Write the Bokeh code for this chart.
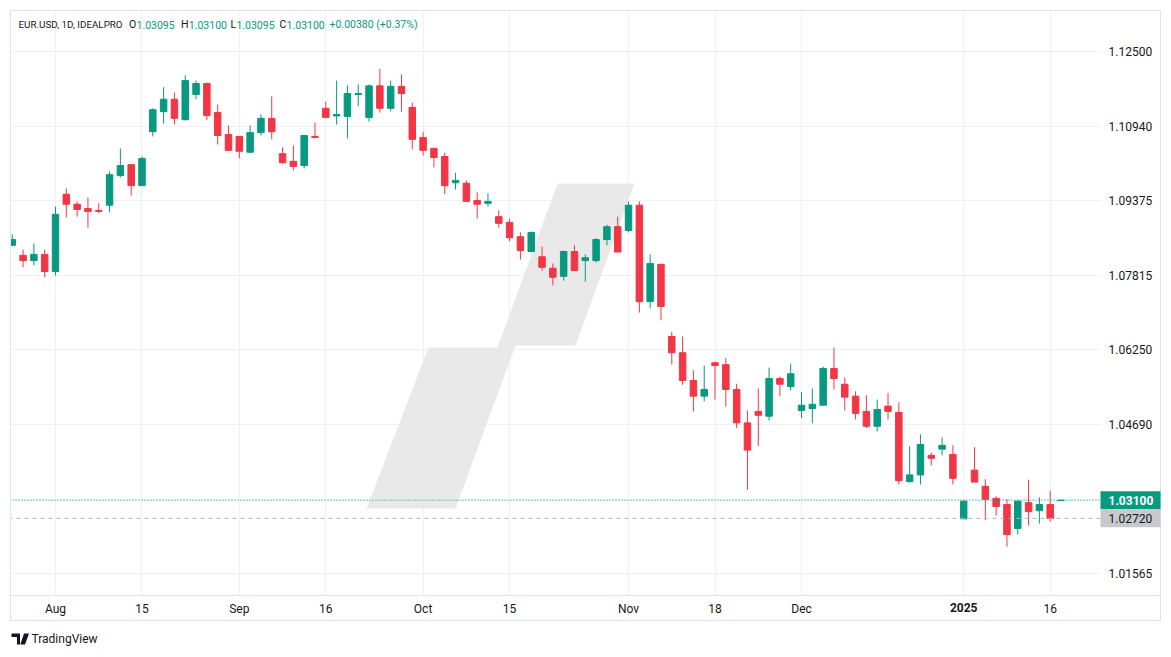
import numpy as np
from bokeh.plotting import figure
from bokeh.models import (Range1d, FixedTicker, Span, Label, PolyAnnotation, BoxAnnotation,
                          ColumnDataSource)
from bokeh.embed import file_html
from bokeh.resources import INLINE

# ---- data (EUR.USD daily) ----
opens = [1.0844, 1.0823, 1.0812, 1.0825, 1.0789, 1.0951, 1.0930, 1.0921, 1.0917, 1.0928,
         1.0990, 1.1013, 1.0969, 1.1082, 1.1124, 1.1150, 1.1107, 1.1160, 1.1183, 1.1122,
         1.1076, 1.1072, 1.1039, 1.1080, 1.1110, 1.1036, 1.1020, 1.1011, 1.1072, 1.1131,
         1.1115, 1.1114, 1.1160, 1.1112, 1.1178, 1.1131, 1.1177, 1.1133, 1.1070, 1.1047,
         1.1030, 1.0975, 1.0974, 1.0938, 1.0932, 1.0904, 1.0892, 1.0862, 1.0831, 1.0820,
         1.0796, 1.0779, 1.0831, 1.0812, 1.0812, 1.0856, 1.0883, 1.0875, 1.0928, 1.0726,
         1.0804, 1.0653, 1.0619, 1.0561, 1.0528, 1.0598, 1.0594, 1.0542, 1.0472, 1.0496,
         1.0486, 1.0565, 1.0548, 1.0498, 1.0502, 1.0509, 1.0586, 1.0553, 1.0528, 1.0496,
         1.0465, 1.0507, 1.0494, 1.0349, 1.0363, 1.0404, 1.0417, 1.0406, 1.0271, 1.0373,
         1.0339, 1.0314, 1.0301, 1.0251, 1.0305, 1.0288, 1.0301, 1.03095]
highs = [1.0867, 1.0835, 1.0848, 1.0835, 1.0925, 1.0963, 1.0936, 1.0944, 1.0932, 1.0999,
         1.1047, 1.1015, 1.1030, 1.1131, 1.1175, 1.1164, 1.1200, 1.1189, 1.1185, 1.1139,
         1.1095, 1.1072, 1.1095, 1.1118, 1.1156, 1.1049, 1.1053, 1.1074, 1.1101, 1.1145,
         1.1189, 1.1179, 1.1181, 1.1181, 1.1214, 1.1189, 1.1202, 1.1143, 1.1082, 1.1049,
         1.1038, 1.0996, 1.0980, 1.0955, 1.0953, 1.0917, 1.0900, 1.0871, 1.0873, 1.0841,
         1.0806, 1.0833, 1.0844, 1.0825, 1.0859, 1.0887, 1.0904, 1.0936, 1.0936, 1.0825,
         1.0806, 1.0663, 1.0653, 1.0582, 1.0592, 1.0600, 1.0608, 1.0554, 1.0498, 1.0544,
         1.0588, 1.0569, 1.0596, 1.0536, 1.0544, 1.0590, 1.0630, 1.0567, 1.0538, 1.0530,
         1.0521, 1.0534, 1.0515, 1.0423, 1.0448, 1.0410, 1.0442, 1.0425, 1.0310, 1.0421,
         1.0354, 1.0318, 1.0312, 1.0310, 1.0353, 1.0316, 1.0330, 1.03100]
lows = [1.0842, 1.0798, 1.0802, 1.0777, 1.0781, 1.0902, 1.0904, 1.0881, 1.0911, 1.0913,
        1.0986, 1.0948, 1.0969, 1.1072, 1.1099, 1.1097, 1.1106, 1.1150, 1.1106, 1.1055,
        1.1042, 1.1026, 1.1038, 1.1074, 1.1066, 1.1015, 1.1001, 1.1005, 1.1070, 1.1110,
        1.1097, 1.1068, 1.1135, 1.1103, 1.1122, 1.1124, 1.1124, 1.1045, 1.1032, 1.1007,
        1.0951, 1.0961, 1.0936, 1.0900, 1.0925, 1.0881, 1.0852, 1.0814, 1.0829, 1.0791,
        1.0760, 1.0770, 1.0791, 1.0768, 1.0808, 1.0844, 1.0830, 1.0871, 1.0703, 1.0712,
        1.0687, 1.0594, 1.0552, 1.0496, 1.0517, 1.0521, 1.0506, 1.0461, 1.0332, 1.0424,
        1.0477, 1.0528, 1.0540, 1.0482, 1.0471, 1.0509, 1.0542, 1.0498, 1.0479, 1.0461,
        1.0454, 1.0479, 1.0343, 1.0347, 1.0343, 1.0383, 1.0404, 1.0343, 1.0271, 1.0348,
        1.0268, 1.0278, 1.0213, 1.0238, 1.0257, 1.0261, 1.0265, 1.03095]
closes = [1.0856, 1.0812, 1.0825, 1.0789, 1.0909, 1.0930, 1.0919, 1.0915, 1.0915, 1.0992,
          1.1011, 1.0969, 1.1026, 1.1128, 1.1150, 1.1110, 1.1189, 1.1183, 1.1116, 1.1074,
          1.1043, 1.1041, 1.1080, 1.1110, 1.1082, 1.1017, 1.1009, 1.1074, 1.1070, 1.1112,
          1.1118, 1.1162, 1.1162, 1.1178, 1.1131, 1.1177, 1.1162, 1.1066, 1.1043, 1.1028,
          1.0969, 1.0980, 1.0936, 1.0930, 1.0936, 1.0890, 1.0860, 1.0833, 1.0871, 1.0798,
          1.0777, 1.0831, 1.0791, 1.0818, 1.0856, 1.0883, 1.0830, 1.0928, 1.0726, 1.0806,
          1.0716, 1.0619, 1.0561, 1.0528, 1.0542, 1.0592, 1.0542, 1.0472, 1.0415, 1.0488,
          1.0565, 1.0553, 1.0575, 1.0509, 1.0511, 1.0586, 1.0565, 1.0526, 1.0492, 1.0465,
          1.0500, 1.0496, 1.0351, 1.0363, 1.0427, 1.0398, 1.0425, 1.0356, 1.0308, 1.0348,
          1.0312, 1.0297, 1.0238, 1.0308, 1.0286, 1.0301, 1.0272, 1.03100]

x_tick_idx = [4, 12, 21, 29, 38, 46, 57, 65, 73, 88, 96]
x_tick_labels = ["Aug", "15", "Sep", "16", "Oct", "15", "Nov", "18", "Dec", "2025", "16"]
y_ticks = [1.015625, 1.03125, 1.046875, 1.0625, 1.078125, 1.09375, 1.109375, 1.125]
y_tick_labels = ["1.01565", "", "1.04690", "1.06250", "1.07815", "1.09375", "1.10940", "1.12500"]
last_price = 1.03100
prev_close = 1.02720
symbol = "EUR.USD, 1D, IDEALPRO"
ohlc_text = [("O", "1.03095"), ("H", "1.03100"), ("L", "1.03095"), ("C", "1.03100")]
change_text = "+0.00380 (+0.37%)"

UP = "#089981"
DOWN = "#F23645"
TXT = "#131722"
BORDER = "#e0e3eb"
FONT = "Roboto"

# ---- layout geometry (canvas pixels) ----
W, H = 1171, 657
BAR_PX, X_OFF = 10.812, 11.75          # bar spacing and canvas x of first bar
PX_PER_UNIT, REF_PRICE, REF_Y = 4773.7, 1.125, 51
CH_L, CH_T, CH_R, CH_B = 10, 10, 1160, 620   # chart panel border
PLOT_R, PLOT_B = 1100, 595                   # end of price pane / start of time scale

x_start, x_end = -X_OFF / BAR_PX, (W - X_OFF) / BAR_PX
y_end = REF_PRICE + REF_Y / PX_PER_UNIT
y_start = REF_PRICE - (H - REF_Y) / PX_PER_UNIT
axis_x = (1096 - X_OFF) / BAR_PX
axis_y = REF_PRICE - (PLOT_B - REF_Y) / PX_PER_UNIT


def sy(y):            # canvas y (top-down) -> bokeh screen y (bottom-up)
    return H - y


def price_sy(pr):     # price -> bokeh screen y
    return (pr - y_start) / (y_end - y_start) * H


idx = np.arange(len(opens))
o = np.array(opens); c = np.array(closes)
colors = [UP if cc >= oo else DOWN for oo, cc in zip(o, c)]
src = ColumnDataSource(dict(x=idx, o=o, h=highs, l=lows, c=c,
                            top=np.maximum(o, c), bot=np.minimum(o, c), col=colors))

p = figure(width=W, height=H, x_range=Range1d(x_start, x_end),
           y_range=Range1d(y_start, y_end), output_backend="svg",
           toolbar_location=None, y_axis_location="right",
           min_border=0, min_border_left=0, min_border_right=0,
           min_border_top=0, min_border_bottom=0)
p.background_fill_color = "white"
p.border_fill_color = "white"
p.outline_line_color = None

# grids
p.xgrid.ticker = FixedTicker(ticks=x_tick_idx)
p.ygrid.ticker = FixedTicker(ticks=y_ticks)
p.xgrid.grid_line_color = "#f0f1f4"
p.ygrid.grid_line_color = "#f0f1f4"

# watermark
wx = [557, 634, 575, 515, 455, 366, 428, 497]
wy = [183, 183, 345, 345, 508, 508, 347, 347]
p.add_layout(PolyAnnotation(xs=wx, ys=[sy(v) for v in wy],
                            xs_units="screen", ys_units="screen",
                            fill_color="#e9e9ea", fill_alpha=1.0, line_color=None,
                            level="underlay"))


# white covers hiding grid lines outside the price pane (under the axes)
def white_box(l, r, t, b, level):
    return BoxAnnotation(left=l, right=r, top=sy(t), bottom=sy(b),
                         left_units="screen", right_units="screen",
                         top_units="screen", bottom_units="screen",
                         fill_color="white", fill_alpha=1.0, line_color=None, level=level)


for box in [(PLOT_R, W, 0, H), (0, W, PLOT_B, H), (0, CH_L, 0, H), (0, W, 0, CH_T)]:
    p.add_layout(white_box(*box, "underlay"))

# candles
p.segment(x0="x", y0="l", x1="x", y1="h", source=src, line_color="col", line_width=1)
p.vbar(x="x", width=0.6, top="top", bottom="bot", source=src,
       fill_color="col", line_color="col", line_width=1)

# price lines
p.add_layout(Span(location=last_price, dimension="width", line_color=UP,
                  line_dash="1 2", line_width=1))
p.add_layout(Span(location=prev_close, dimension="width", line_color="#b2b5be",
                  line_dash="4 4", line_width=1))
for box in [(0, CH_L, 0, H), (CH_R, W, 0, H)]:
    p.add_layout(white_box(*box, "annotation"))

# chart panel border and time-scale separator
p.add_layout(BoxAnnotation(left=CH_L, right=CH_R, top=sy(CH_T), bottom=sy(CH_B),
                           left_units="screen", right_units="screen",
                           top_units="screen", bottom_units="screen",
                           fill_alpha=0, line_color=BORDER, line_alpha=1, line_width=1))
p.add_layout(BoxAnnotation(left=CH_L, right=CH_R, top=sy(PLOT_B), bottom=sy(CH_B),
                           left_units="screen", right_units="screen",
                           top_units="screen", bottom_units="screen",
                           fill_alpha=0, line_color=BORDER, line_alpha=1, line_width=1))

# axes (drawn inside the canvas at fixed positions)
p.xaxis.ticker = FixedTicker(ticks=x_tick_idx)
p.xaxis.major_label_overrides = {i: ("" if t == "2025" else t) for i, t in zip(x_tick_idx, x_tick_labels)}
p.yaxis.ticker = FixedTicker(ticks=y_ticks)
p.yaxis.major_label_overrides = {t: l for t, l in zip(y_ticks, y_tick_labels)}
p.xaxis.fixed_location = axis_y
p.yaxis.fixed_location = axis_x
for ax in (p.xaxis[0], p.yaxis[0]):
    ax.axis_line_color = None
    ax.major_tick_line_color = None
    ax.minor_tick_line_color = None
    ax.major_tick_out = 0
    ax.major_tick_in = 0
    ax.major_label_text_font = FONT
    ax.major_label_text_font_size = "12px"
    ax.major_label_text_color = TXT
p.yaxis.major_label_standoff = 12
p.xaxis.major_label_standoff = 6

# bold 2025 label
p.add_layout(Label(x=x_tick_idx[x_tick_labels.index("2025")], y=sy(607), y_units="screen",
                   text="2025", text_font=FONT, text_font_size="12px", text_font_style="bold",
                   text_color=TXT, text_align="center", text_baseline="middle"))

# price labels on scale
for pr, bg, fg, style in [(last_price, UP, "white", "bold"), (prev_close, "#c8c9cd", TXT, "normal")]:
    yc = price_sy(pr)
    p.add_layout(BoxAnnotation(left=PLOT_R, right=CH_R, top=yc + 9, bottom=yc - 9,
                               left_units="screen", right_units="screen",
                               top_units="screen", bottom_units="screen",
                               fill_color=bg, fill_alpha=1.0, line_color=None))
    p.add_layout(Label(x=1108, y=pr, x_units="screen", text=f"{pr:.5f}",
                       text_font=FONT, text_font_size="12px", text_font_style=style,
                       text_color=fg, text_baseline="middle"))

# header legend
p.add_layout(Label(x=18, y=sy(24), x_units="screen", y_units="screen", text=symbol,
                   text_font=FONT, text_font_size="9.8px", text_color=TXT, text_baseline="middle"))
letter_w = {"O": 7.2, "H": 7.5, "L": 5.6, "C": 6.8}
for lx, (letter, val) in zip([128.5, 180.5, 230, 279], ohlc_text):
    p.add_layout(Label(x=lx, y=sy(24), x_units="screen", y_units="screen", text=letter,
                       text_font=FONT, text_font_size="10.5px", text_color=TXT,
                       text_baseline="middle"))
    p.add_layout(Label(x=lx + letter_w[letter] + 0.3, y=sy(24), x_units="screen",
                       y_units="screen", text=val, text_font=FONT, text_font_size="10.5px",
                       text_color=UP, text_baseline="middle"))
p.add_layout(Label(x=329, y=sy(24), x_units="screen", y_units="screen", text=change_text,
                   text_font=FONT, text_font_size="10.5px", text_color=UP, text_baseline="middle"))

# TradingView logo
p.add_layout(PolyAnnotation(xs=[11, 19.5, 19.5, 16.5, 16.5, 11],
                            ys=[sy(v) for v in [633, 633, 644, 644, 636.5, 636.5]],
                            xs_units="screen", ys_units="screen",
                            fill_color=TXT, fill_alpha=1.0, line_color=None))
p.add_layout(PolyAnnotation(xs=[23.5, 28.5, 24.5, 19.8],
                            ys=[sy(v) for v in [633, 633, 644, 644]],
                            xs_units="screen", ys_units="screen",
                            fill_color=TXT, fill_alpha=1.0, line_color=None))
p.add_layout(Label(x=31, y=sy(638.5), x_units="screen", y_units="screen", text="TradingView",
                   text_font=FONT, text_font_size="12px", text_color=TXT, text_baseline="middle"))

open("out.html", "w").write(file_html(p, INLINE))
